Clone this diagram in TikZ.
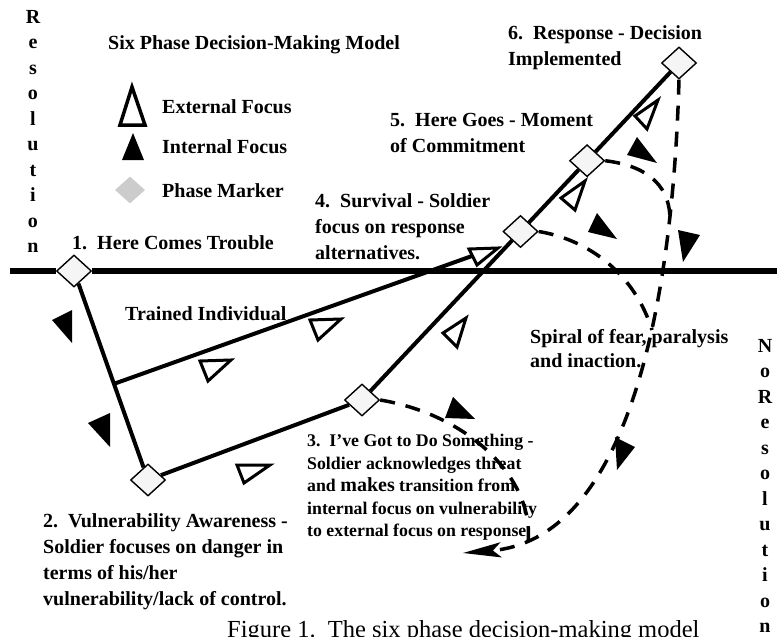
\documentclass[tikz,border=0pt]{standalone}
\usepackage{fontspec}
\setmainfont{Liberation Serif}
\usetikzlibrary{shapes.geometric,arrows.meta,calc}

\begin{document}
\begin{tikzpicture}[x=1pt,y=-1pt,
    every node/.style={font=\bfseries\fontsize{20}{26}\selectfont,inner sep=0pt},
    phase/.style={diamond,draw,line width=1.4pt,fill=gray!8,minimum width=35pt,minimum height=32pt},
    path/.style={line width=4pt},
    spiral/.style={line width=3.5pt,dash pattern=on 15pt off 11pt},
    ext/.style={draw,line width=3pt,fill=white,line join=miter},
    int/.style={fill=black},
    lbl/.style={align=left,anchor=north west},
    vlbl/.style={align=center,anchor=north,font=\bfseries\fontsize{20}{25.5}\selectfont}]
\clip (0,0) rectangle (777,637);

% phase markers
\node[phase] (d1) at (74,271) {};
\node[phase] (d2) at (148,480) {};
\node[phase] (d3) at (362,400) {};
\node[phase] (d6) at (679,63) {};
\node[phase] (d4) at ($(d3)!0.5!(d6)$) {};
\node[phase] (d5) at ($(d3)!0.71!(d6)$) {};
\coordinate (hl) at (10,271);
\coordinate (hr) at (777,271);
\coordinate (tb) at ($(d1)!0.54!(d2)$);
\coordinate (te) at (472,256);
\coordinate (m3) at (528,543);
\coordinate (m4) at (652,330);
\coordinate (m5) at (670,220);
\coordinate (sp) at (463,553);

% resolution line and paths
\draw[line width=6pt] (hl) -- (d1);
\draw[line width=6pt] (d1) -- (hr);
\draw[path] (d1) -- (d2);
\draw[path] (tb) -- (te);
\draw[path] (d2) -- (d3);
\draw[path] (d3) -- (d4);
\draw[path] (d4) -- (d5);
\draw[path] (d5) -- (d6);

% spiral of fear
\draw[spiral,-{Stealth[length=38pt,width=15pt,inset=8pt]}] (d6.south) .. controls (672,330) and (620,540) .. (sp);
\draw[spiral] (d5.east) .. controls (640,165) and (670,180) .. (m5);
\draw[spiral] (d4.east) .. controls (590,240) and (635,275) .. (m4);
\draw[spiral] (d3.east) .. controls (470,415) and (535,480) .. (m3);

% external focus
\draw[ext] (200,361) -- (231,360) -- (208,381) -- cycle;
\draw[ext] (310,320) -- (341,319) -- (318,340) -- cycle;
\draw[ext] (237,465) -- (270,465) -- (244,483) -- cycle;
\draw[ext] (469,249) -- (498,248) -- (477,265) -- cycle;
\draw[ext] (466,318) -- (443,333) -- (457,347) -- cycle;
\draw[ext] (585,181) -- (561,198) -- (575,210) -- cycle;
\draw[ext] (658,100) -- (635,116) -- (647,129) -- cycle;
% internal focus
\fill[int] (72,310) -- (52,320) -- (72,343) -- cycle;
\fill[int] (110,413) -- (88,423) -- (110,447) -- cycle;
\fill[int] (453,397) -- (445,418) -- (475,419) -- cycle;
\fill[int] (597,213) -- (588,232) -- (617,239) -- cycle;
\fill[int] (637,137) -- (627,155) -- (657,163) -- cycle;
\fill[int] (678,230) -- (700,235) -- (683,262) -- cycle;
\fill[int] (615,437) -- (635,447) -- (617,470) -- cycle;

% legend
\node[anchor=west] (title) at (108,45) {Six Phase Decision-Making Model};
\draw[ext,line width=3.5pt] (132,87) -- (145,125) -- (120,125) -- cycle;
\fill[int] (133,133) -- (144,160) -- (122,160) -- cycle;
\node[diamond,fill=gray!40,minimum width=30pt,minimum height=27pt] (legphase) at (130,190) {};
\node[anchor=west] (legext) at (162,107) {External Focus};
\node[anchor=west] (legint) at (162,147) {Internal Focus};
\node[anchor=west] (legpm) at (162,191) {Phase Marker};

% labels
\node[vlbl] (res) at (33,10) {R\\e\\s\\o\\l\\u\\t\\i\\o\\n};
\node[vlbl] (nores) at (765,339) {N\\o\\R\\e\\s\\o\\l\\u\\t\\i\\o\\n};
\node[lbl] (t1) at (72,235) {1.\ \ Here Comes Trouble};
\node[lbl] (t2) at (43,513) {2.\ \ Vulnerability Awareness -\\Soldier focuses on danger in\\terms of his/her\\vulnerability/lack of control.};
\node[lbl,font=\bfseries\fontsize{17.8}{22.5}\selectfont] (t3) at (307,434) {3.\ \ I've Got to Do Something -\\Soldier acknowledges threat\\and {\fontsize{20}{22.5}\selectfont makes} transition from\\internal focus on vulnerability\\to external focus on response.};
\node[lbl] (t4) at (315,193) {4.\ \ Survival - Soldier\\focus on response\\alternatives.};
\node[lbl] (t5) at (390,113) {5.\ \ Here Goes - Moment\\of Commitment};
\node[lbl] (t6) at (508,25) {6.\ \ Response - Decision\\Implemented};
\node[lbl] (trained) at (125,306) {Trained Individual};
\node[lbl,font=\bfseries\fontsize{20}{24}\selectfont] (spiral) at (530,329) {Spiral of fear, paralysis\\and inaction.};
\node[lbl,font=\fontsize{24.5}{28}\selectfont] (caption) at (227,620) {Figure 1.\ \ The six phase decision-making model};
\end{tikzpicture}
\end{document}
